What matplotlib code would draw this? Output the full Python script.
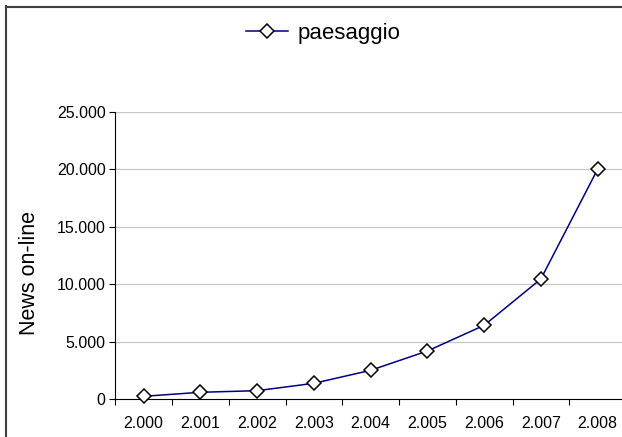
import numpy as np
import matplotlib.pyplot as plt
from matplotlib.lines import Line2D
from matplotlib.ticker import FixedLocator, FuncFormatter

plt.rcParams['font.family'] = ['Liberation Sans', 'DejaVu Sans']

# data
years = ['2.000', '2.001', '2.002', '2.003', '2.004', '2.005', '2.006', '2.007', '2.008']
news = [260, 610, 750, 1390, 2520, 4200, 6430, 10460, 20000]
series_name = 'paesaggio'
y_ticks = [0, 5000, 10000, 15000, 20000, 25000]

W, H = 622, 437
fig = plt.figure(figsize=(W / 100, H / 100), dpi=100)

# plot area in pixels (right side runs off the picture)
left, right = 115.3, 626.0
bottom, top = 399.3, 111.7
ax = fig.add_axes([left / W, 1 - bottom / H, (right - left) / W, (bottom - top) / H])

x = np.arange(len(years))
line, = ax.plot(x, news, color='#000080', lw=1.1, marker='D', markersize=7.3,
                markerfacecolor='white', markeredgecolor='black', markeredgewidth=1.1,
                label=series_name, clip_on=False, zorder=3)

ax.set_xlim(-0.5, len(years) - 0.5)
ax.set_ylim(0, 25000)

ax.set_yticks(y_ticks)
ax.yaxis.set_major_formatter(FuncFormatter(lambda v, p: f'{int(v):,}'.replace(',', '.')))
for v in y_ticks[1:]:
    ax.axhline(v, color='#c8c8c8', lw=0.9, zorder=0)

ax.set_xticks(x)
ax.set_xticklabels(years)
ax.xaxis.set_minor_locator(FixedLocator(np.arange(-0.5, len(years), 1.0)))
ax.tick_params(axis='x', which='major', length=0, pad=12, labelsize=11.5)
ax.tick_params(axis='x', which='minor', length=4, width=0.8, direction='out')
ax.tick_params(axis='y', length=4, width=0.8, direction='out', pad=3, labelsize=11.5)

for s in ['top', 'right']:
    ax.spines[s].set_visible(False)
for s in ['left', 'bottom']:
    ax.spines[s].set_linewidth(0.8)
    ax.spines[s].set_color('black')

fig.text(30 / W, 1 - 273 / H, 'News on-line', rotation=90, ha='center', va='center', fontsize=15.5)

fig.legend(handles=[line], loc='center', bbox_to_anchor=(323 / W, 1 - 33 / H),
           frameon=False, fontsize=16, handlelength=1.9, handletextpad=0.4,
           borderpad=0, borderaxespad=0)

# outer chart frame (cut off on the right and bottom)
fig.add_artist(Line2D([6 / W, 6 / W], [1 - 6 / H, 0], transform=fig.transFigure,
                      color='#404040', lw=1.5))
fig.add_artist(Line2D([6 / W, 1], [1 - 6.5 / H, 1 - 6.5 / H], transform=fig.transFigure,
                      color='#404040', lw=1.5))

fig.savefig('out.png', dpi=100)
